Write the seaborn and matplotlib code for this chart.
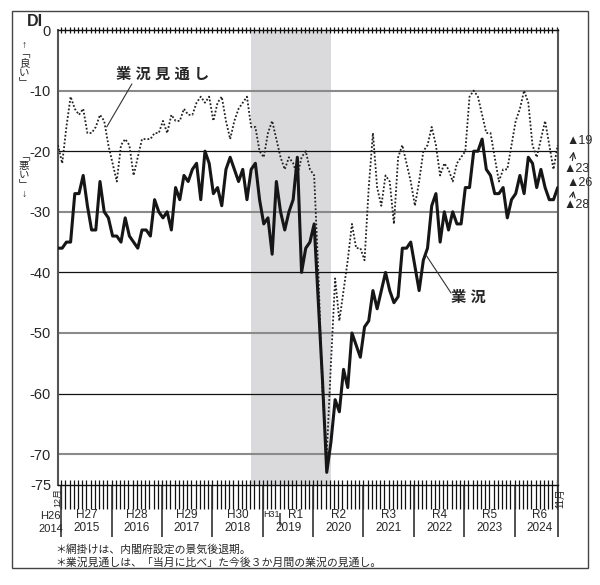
import numpy as np
import pandas as pd
import matplotlib
matplotlib.use("Agg")
import matplotlib.pyplot as plt
import matplotlib.transforms as mtransforms
from matplotlib.patches import Rectangle
import seaborn as sns

sns.set_style("white")
plt.rcParams['font.family'] = ['Liberation Sans', 'Noto Sans CJK JP', 'DejaVu Sans']
plt.rcParams['axes.unicode_minus'] = False

# 2014年12月 ~ 2024年11月 (月次 DI)
gyokyo = [-36, -36, -35, -35, -27, -27, -24, -29, -33, -33, -25, -30, -31,
          -34, -34, -35, -31, -34, -35, -36, -33, -33, -34, -28, -30, -31,
          -30, -33, -26, -28, -24, -25, -23, -22, -28, -20, -22, -27, -26,
          -29, -23, -21, -23, -25, -23, -28, -23, -22, -28, -32, -31, -37,
          -25, -30, -33, -30, -28, -21, -40, -36, -35, -32, -45, -58, -73,
          -68, -61, -63, -56, -59, -50, -52, -54, -49, -48, -43, -46, -43,
          -40, -43, -45, -44, -36, -36, -35, -39, -43, -38, -36, -29, -27,
          -35, -30, -33, -30, -32, -32, -26, -26, -20, -20, -18, -23, -24,
          -27, -27, -26, -31, -28, -27, -24, -27, -21, -22, -26, -23, -26,
          -28, -28, -26]
mitoshi = [-19, -22, -16, -11, -13, -14, -13, -17, -17, -16, -14, -15, -19,
           -22, -25, -19, -18, -19, -24, -21, -18, -18, -18, -17, -17, -15,
           -17, -14, -15, -15, -13, -14, -14, -12, -11, -12, -11, -15, -12,
           -11, -15, -18, -15, -13, -12, -11, -16, -16, -20, -21, -17, -15,
           -18, -21, -23, -21, -22, -24, -21, -20, -23, -24, -40, -60, -70,
           -55, -41, -48, -43, -38, -32, -36, -36, -38, -26, -17, -26, -29,
           -24, -25, -32, -21, -19, -22, -25, -29, -25, -20, -19, -16, -19,
           -24, -22, -23, -25, -22, -21, -20, -11, -10, -11, -14, -17, -17,
           -21, -25, -23, -23, -19, -15, -13, -10, -12, -19, -21, -18, -15,
           -19, -23, -19]
months = np.arange(len(gyokyo))

y_ticks = [0, -10, -20, -30, -40, -50, -60, -70, -75]
grid_gray = [-10, -30, -50, -70]
grid_black = [-20, -40, -60]
years = list(range(2015, 2025))
eras = ["H27", "H28", "H29", "H30", "R1", "R2", "R3", "R4", "R5", "R6"]
recession = (46, 65)  # 2018年10月 ~ 2020年5月

df = pd.DataFrame({"m": months, "業況": gyokyo, "業況見通し": mitoshi})

fig = plt.figure(figsize=(6, 5.85), dpi=100)
ax = fig.add_axes([58 / 600, 1 - 484.5 / 585, (557.7 - 58) / 600, (484.5 - 30) / 585])

ax.axvspan(recession[0], recession[1], color="#dadadc", lw=0, zorder=0)
for v in grid_gray:
    ax.axhline(v, color="#8a8a8a", lw=1.5, zorder=1)
for v in grid_black:
    ax.axhline(v, color="#111111", lw=0.9, zorder=1)

sns.lineplot(data=df, x="m", y="業況見通し", ax=ax, color="#222222", lw=1.3,
             linestyle=(0, (1, 1.1)), zorder=3)
sns.lineplot(data=df, x="m", y="業況", ax=ax, color="#161616", lw=2.2, zorder=4)

ax.set_xlim(0, len(gyokyo) - 1)
ax.set_ylim(-75, 0)
ax.set_xlabel("")
ax.set_ylabel("")
ax.set_xticks([])
ax.set_yticks(y_ticks)
ax.set_yticklabels([str(v) for v in y_ticks], fontsize=10.5)
ax.tick_params(axis="y", length=0, pad=5)
for s in ["left", "right"]:
    ax.spines[s].set_color("#555555")
    ax.spines[s].set_linewidth(1.5)
for s in ["top", "bottom"]:
    ax.spines[s].set_color("#111111")
    ax.spines[s].set_linewidth(1.0)

# 月目盛り
trans = mtransforms.blended_transform_factory(ax.transData, ax.transAxes)
tick_x = np.arange(len(gyokyo) - 1) + 0.75
ax.vlines(tick_x, -0.055, 0.009, transform=trans, color="#111111", lw=0.9, clip_on=False)
ax.vlines(tick_x, 0.993, 1.007, transform=trans, color="#111111", lw=0.9, clip_on=False)
sep_x = list(12 * np.arange(len(years)) + 0.75) + [len(gyokyo) - 1]
ax.vlines(sep_x, -0.1155, 0, transform=trans, color="#333333", lw=1.2, clip_on=False)
ax.vlines([52.75], -0.089, -0.0627, transform=trans, color="#333333", lw=1.1, clip_on=False)

for k, (yr, era) in enumerate(zip(years, eras)):
    cx = 12 * k + 6.75
    if yr == 2019:
        ax.text(50.75, -0.067, "H31", transform=trans, ha="center", va="center", fontsize=6.5)
        ax.text(56.5, -0.067, era, transform=trans, ha="center", va="center", fontsize=8.5)
        ax.text(54.8, -0.096, str(yr), transform=trans, ha="center", va="center", fontsize=8.5)
    else:
        ax.text(cx, -0.067, era, transform=trans, ha="center", va="center", fontsize=8.5)
        ax.text(cx, -0.096, str(yr), transform=trans, ha="center", va="center", fontsize=8.5)
ax.text(-1.8, -0.069, "H26", transform=trans, ha="center", va="center", fontsize=8)
ax.text(-1.8, -0.097, "2014", transform=trans, ha="center", va="center", fontsize=8)
ax.text(-0.1, -0.008, "12月", transform=trans, ha="center", va="top", rotation=90, fontsize=6.5)
ax.text(len(gyokyo) - 0.3, -0.008, "11月", transform=trans, ha="center", va="top", rotation=90, fontsize=7)

# 系列ラベル
ax.plot([17.6, 11.6], [-8.9, -16.0], color="#333333", lw=0.8, zorder=5)
ax.text(25, -7.4, "業 況 見 通 し", ha="center", va="center", fontsize=11, fontweight="bold")
ax.plot([93.6, 87.6], [-43.4, -37.1], color="#333333", lw=0.8, zorder=5)
ax.text(97.8, -44.2, "業 況", ha="center", va="center", fontsize=11, fontweight="bold")

# 右側の前月→当月
ax.text(121.2, mitoshi[-1] + 0.7, f"▲{abs(mitoshi[-1])}", ha="left", va="center", fontsize=9, clip_on=False)
ax.text(120.4, mitoshi[-2] + 0.1, f"▲{abs(mitoshi[-2])}", ha="left", va="center", fontsize=9, clip_on=False)
ax.text(121.2, gyokyo[-1] + 0.8, f"▲{abs(gyokyo[-1])}", ha="left", va="center", fontsize=9, clip_on=False)
ax.text(120.4, gyokyo[-2] - 0.8, f"▲{abs(gyokyo[-2])}", ha="left", va="center", fontsize=9, clip_on=False)
ax.annotate("", xy=(122.9, -19.6), xytext=(122.4, -22.0),
            arrowprops=dict(arrowstyle="->", lw=0.8, color="#222222"), annotation_clip=False)
ax.annotate("", xy=(122.9, -26.1), xytext=(122.4, -28.0),
            arrowprops=dict(arrowstyle="->", lw=0.8, color="#222222"), annotation_clip=False)

# 軸ラベル・縦書き
fig.text(27 / 600, 1 - 21 / 585, "DI", ha="left", va="center", fontsize=11.5, fontweight="bold")
fig.text(24 / 600, 1 - 40 / 585, "↑\n﹁\n良\nい\n﹂", ha="center", va="top", fontsize=7.5, linespacing=0.9)
fig.text(24 / 600, 1 - 152 / 585, "﹁\n悪\nい\n﹂\n↓", ha="center", va="top", fontsize=7.5, linespacing=0.9)

fig.text(55 / 600, 1 - 549 / 585, "＊網掛けは、内閣府設定の景気後退期。", ha="left", va="center", fontsize=7.8)
fig.text(55 / 600, 1 - 563 / 585, "＊業況見通しは、「当月に比べ」た今後３か月間の業況の見通し。",
         ha="left", va="center", fontsize=7.8)

fig.patches.append(Rectangle((12 / 600, 1 - 568 / 585), 576 / 600, 557 / 585,
                             transform=fig.transFigure, fill=False, edgecolor="#444444", lw=1.0))

fig.savefig("out.png", dpi=100)
